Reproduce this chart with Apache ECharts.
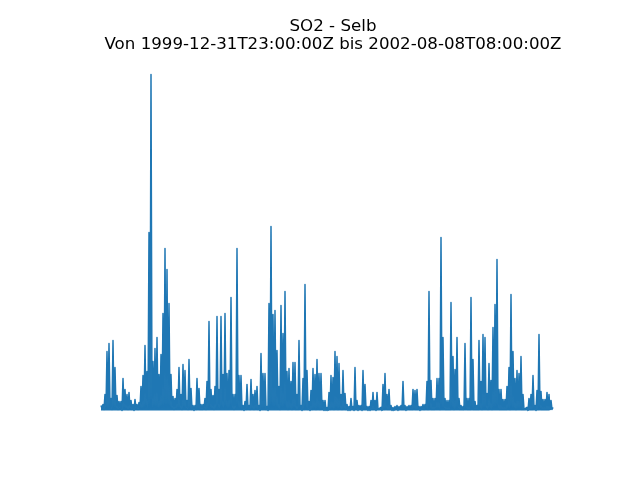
<!DOCTYPE html>
<html>
<head>
<meta charset="utf-8">
<script src="https://cdn.jsdelivr.net/npm/echarts@6/dist/echarts.min.js"></script>
<style>html,body{margin:0;padding:0;background:#fff;}#c{width:640px;height:480px;}</style>
</head>
<body>
<div id="c"></div>
<script>
// SO2 at Selb, envelope of the hourly record (µg/m³), evenly spaced from start to end
var startTime = "1999-12-31T23:00:00Z";
var endTime = "2002-08-08T08:00:00Z";
var titleText = "SO2 - Selb";
var subtitleText = "Von 1999-12-31T23:00:00Z bis 2002-08-08T08:00:00Z";

// local maxima, one per period
var peakValues = [
  5, 6, 16, 59, 67, 12, 70, 43, 15, 9, 9, 32, 21, 16, 18, 10, 6, 11, 6, 8,
  24, 35, 65, 39, 178, 336, 49, 62, 73, 36, 56, 97, 162, 141, 107, 36, 14, 12, 21, 43,
  16, 46, 40, 10, 51, 22, 5, 5, 32, 22, 6, 6, 12, 29, 89, 21, 15, 24, 94, 21,
  94, 36, 97, 37, 40, 113, 16, 16, 162, 35, 35, 5, 9, 26, 5, 31, 16, 20, 24, 5,
  57, 37, 37, 4, 107, 184, 96, 100, 60, 24, 105, 77, 119, 39, 42, 29, 48, 48, 16, 70,
  5, 32, 126, 40, 9, 20, 42, 36, 51, 37, 37, 10, 10, 3, 18, 35, 33, 59, 54, 47,
  16, 40, 17, 6, 4, 12, 4, 43, 10, 5, 5, 40, 26, 4, 4, 10, 18, 10, 18, 3,
  3, 26, 37, 16, 21, 5, 3, 4, 5, 4, 5, 29, 5, 4, 5, 5, 21, 20, 21, 4,
  4, 6, 6, 29, 119, 30, 12, 12, 32, 32, 173, 73, 12, 10, 10, 108, 54, 41, 73, 12,
  5, 4, 67, 12, 12, 113, 51, 9, 5, 70, 29, 76, 73, 17, 47, 30, 83, 106, 151, 21,
  21, 11, 11, 24, 43, 116, 59, 32, 40, 37, 54, 16, 3, 3, 12, 16, 35, 5, 20, 76,
  19, 11, 11, 18, 16, 10, 3
];
// local minima between consecutive maxima
var troughValues = [
  2, 1, 3, 2, 4, 1, 3, 2, 1, 2, 0, 3, 2, 1, 2, 1, 0, 2, 1, 3,
  2, 3, 4, 2, 3, 2, 4, 3, 2, 3, 4, 3, 2, 4, 3, 2, 1, 2, 3, 2,
  1, 3, 2, 1, 2, 1, 0, 1, 2, 1, 1, 2, 1, 2, 3, 2, 1, 2, 3, 2,
  3, 2, 3, 2, 3, 2, 1, 2, 3, 2, 1, 0, 1, 2, 1, 2, 1, 2, 1, 0,
  2, 3, 1, 0, 2, 3, 2, 3, 2, 1, 2, 3, 2, 1, 2, 1, 2, 1, 1, 2,
  0, 1, 2, 1, 0, 1, 2, 1, 2, 1, 2, 0, 0, 0, 1, 2, 1, 2, 1, 2,
  1, 2, 1, 0, 0, 1, 0, 1, 0, 1, 0, 1, 1, 0, 0, 1, 1, 0, 1, 0,
  0, 1, 2, 1, 1, 0, 0, 1, 0, 1, 1, 1, 0, 1, 1, 1, 2, 1, 1, 0,
  1, 1, 2, 1, 2, 1, 1, 2, 2, 1, 2, 2, 1, 1, 1, 2, 1, 2, 2, 1,
  1, 1, 2, 1, 1, 2, 1, 1, 1, 2, 1, 2, 2, 1, 2, 1, 2, 2, 2, 1,
  1, 1, 1, 2, 1, 2, 2, 1, 2, 2, 1, 1, 0, 0, 1, 1, 2, 0, 1, 2,
  1, 1, 1, 1, 1, 1
];

var t0 = Date.parse(startTime), t1 = Date.parse(endTime);
var step = (t1 - t0) / (peakValues.length - 1);
var seriesData = [];
for (var i = 0; i < peakValues.length; i++) {
  seriesData.push([t0 + i * step, peakValues[i]]);
  if (i < troughValues.length) seriesData.push([t0 + (i + 0.5) * step, troughValues[i]]);
}
var vmax = Math.max.apply(null, peakValues), vmin = 0;
var pad = (vmax - vmin) * 0.05;

var chart = echarts.init(document.getElementById('c'), null, {renderer: 'canvas'});
chart.setOption({
  animation: false,
  backgroundColor: '#ffffff',
  title: {
    text: titleText + '\n' + subtitleText,
    left: 328,
    textAlign: 'center',
    top: 13,
    textStyle: {
      fontFamily: 'DejaVu Sans',
      fontSize: 16.67,
      fontWeight: 'normal',
      color: '#000000',
      lineHeight: 17.8,
      align: 'center'
    }
  },
  grid: {left: 101, right: 87, top: 57.6, bottom: 52.8, containLabel: false},
  xAxis: {type: 'time', min: t0, max: t1, show: false, splitLine: {show: false}},
  yAxis: {type: 'value', min: vmin - pad, max: vmax + pad, show: false, splitLine: {show: false}},
  series: [{
    type: 'line',
    data: seriesData,
    showSymbol: false,
    symbol: 'none',
    lineStyle: {color: '#1f77b4', width: 1.5, join: 'round'},
    areaStyle: {color: '#1f77b4', opacity: 1, origin: 0},
    itemStyle: {color: '#1f77b4'}
  }]
});
</script>
</body>
</html>
